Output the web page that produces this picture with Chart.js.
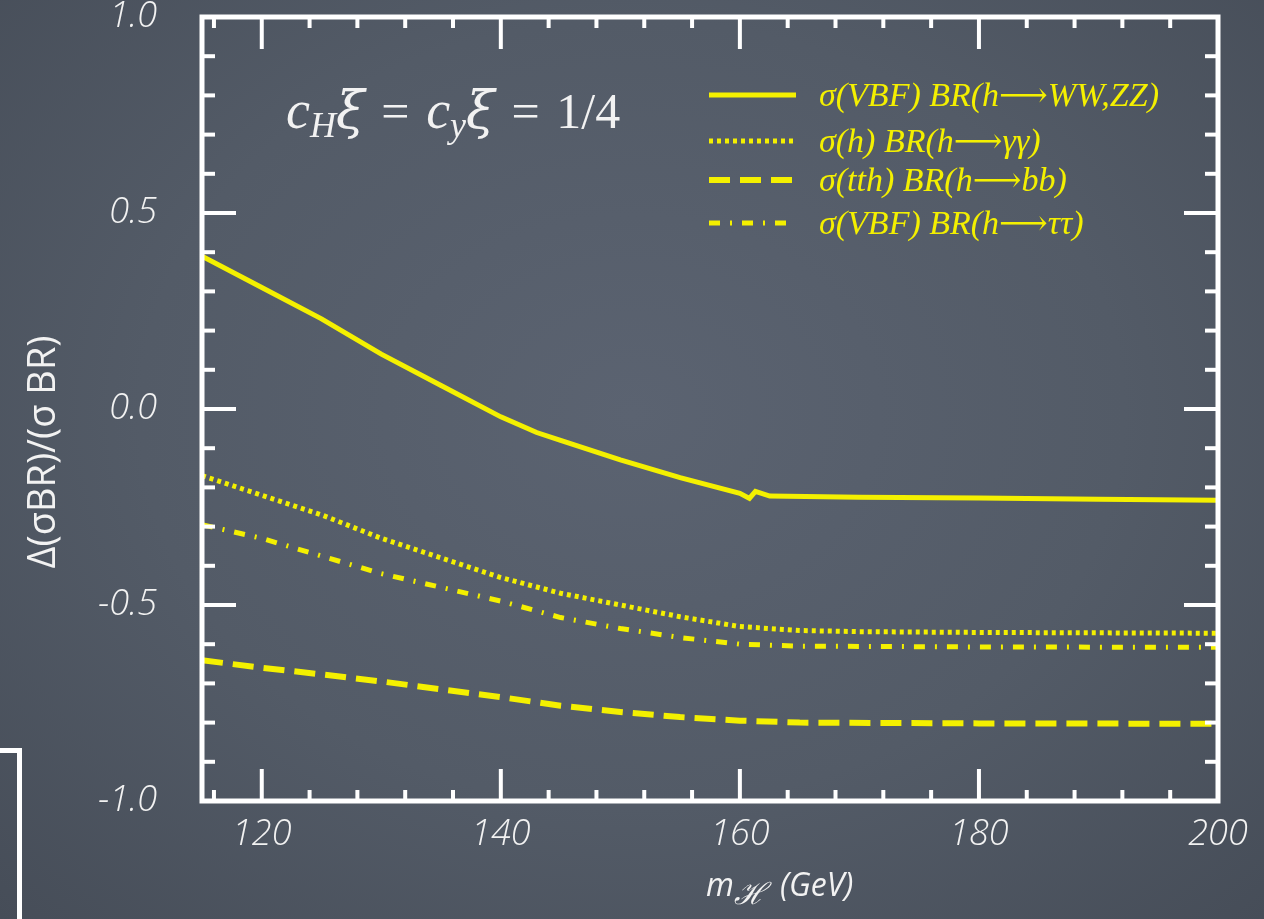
<!DOCTYPE html>
<html>
<head>
<meta charset="utf-8">
<script src="https://cdn.jsdelivr.net/npm/chart.js@4.4.1/dist/chart.umd.min.js"></script>
<style>
  html, body { margin: 0; padding: 0; }
  body {
    width: 1264px; height: 919px; overflow: hidden; position: relative;
    background: radial-gradient(ellipse at 50% 45%, #5b6371 0%, #535b67 55%, #464d58 100%);
  }
  #wrap { position: absolute; left: 0; top: 0; width: 1264px; height: 919px; }
  .slide-box {
    position: absolute; left: -10px; top: 748px; width: 27px; height: 220px;
    border: 5px solid #fff; border-left: none;
  }
</style>
</head>
<body>
<div class="slide-box"></div>
<div id="wrap"><canvas id="chart"></canvas></div>
<script>
// data: m_H (GeV) and Delta(sigma BR)/(sigma BR)
const massWW  = [115, 120, 125, 130, 135, 140, 143, 145, 150, 155, 160, 160.8, 161.3, 162.5, 170, 180, 190, 200];
const ratioWW = [0.39, 0.31, 0.23, 0.14, 0.06, -0.02, -0.06, -0.08, -0.13, -0.175, -0.215, -0.228, -0.21, -0.222, -0.225, -0.227, -0.23, -0.233];

const massGG  = [115, 120, 125, 130, 135, 140, 145, 150, 155, 160, 165, 170, 180, 200];
const ratioGG = [-0.17, -0.22, -0.27, -0.33, -0.38, -0.43, -0.47, -0.50, -0.53, -0.555, -0.565, -0.568, -0.57, -0.572];

const massBB  = [115, 120, 125, 130, 135, 140, 145, 150, 155, 160, 165, 180, 200];
const ratioBB = [-0.641, -0.66, -0.677, -0.695, -0.715, -0.735, -0.757, -0.773, -0.786, -0.795, -0.8, -0.802, -0.803];

const massTT  = [115, 120, 125, 130, 135, 140, 145, 150, 155, 160, 165, 180, 200];
const ratioTT = [-0.295, -0.33, -0.375, -0.42, -0.455, -0.49, -0.532, -0.56, -0.583, -0.6, -0.605, -0.607, -0.608];

const seriesLabels = ['σ(VBF) BR(h\u27F6WW,ZZ)', 'σ(h) BR(h\u27F6γγ)', 'σ(tth) BR(h\u27F6bb)', 'σ(VBF) BR(h\u27F6ττ)'];
const xTickLabels = [120, 140, 160, 180, 200];

const YELLOW = '#f4f000';
const pts = (xs, ys) => xs.map((m, i) => ({ x: m, y: ys[i] }));

const dataset = (label, xs, ys, dash, width) => ({
  label: label,
  data: pts(xs, ys),
  borderColor: YELLOW,
  borderWidth: width,
  borderDash: dash,
  pointRadius: 0,
  tension: 0,
  fill: false
});

const chalkFrame = {
  id: 'chalkFrame',
  afterDatasetsDraw(chart) {
    const { ctx, chartArea: a, scales: { x, y } } = chart;
    const seg = (x1, y1, x2, y2) => { ctx.beginPath(); ctx.moveTo(x1, y1); ctx.lineTo(x2, y2); ctx.stroke(); };
    ctx.save();
    ctx.strokeStyle = '#ffffff';
    ctx.lineCap = 'butt';

    // ticks, inward on all four sides
    ctx.lineWidth = 4;
    for (let m = 116; m < 200; m += 4) {
      const px = x.getPixelForValue(m);
      const len = m % 20 === 0 ? 32 : 11;
      seg(px, a.bottom, px, a.bottom - len);
      seg(px, a.top, px, a.top + len);
    }
    for (let k = -9; k <= 9; k++) {
      const py = y.getPixelForValue(k / 10);
      const len = k % 5 === 0 ? 34 : 13;
      seg(a.left, py, a.left + len, py);
      seg(a.right, py, a.right - len, py);
    }
    ctx.lineWidth = 5;
    ctx.strokeRect(a.left, a.top, a.right - a.left, a.bottom - a.top);

    // legend
    const rows = [95, 141, 180, 223];
    chart.data.datasets.forEach((ds, i) => {
      ctx.strokeStyle = YELLOW;
      ctx.lineWidth = ds.borderWidth;
      ctx.setLineDash(ds.borderDash);
      seg(709, rows[i], 796, rows[i]);
      ctx.setLineDash([]);
      ctx.fillStyle = YELLOW;
      ctx.font = 'italic 34px "Liberation Serif", "DejaVu Serif", serif';
      ctx.textBaseline = 'middle';
      ctx.textAlign = 'left';
      ctx.fillText(ds.label, 819, rows[i] + 2);
    });

    // parameter note: c_H xi = c_y xi = 1/4
    const parts = [
      ['c', 'italic 54px "Liberation Serif", serif', 0],
      ['H', 'italic 36px "Liberation Serif", serif', 9],
      ['ξ', 'italic 52px "DejaVu Serif", serif', 0],
      ['\u2004=\u2004', '50px "Liberation Serif", serif', 0],
      ['c', 'italic 54px "Liberation Serif", serif', 0],
      ['y', 'italic 36px "Liberation Serif", serif', 9],
      ['ξ', 'italic 52px "DejaVu Serif", serif', 0],
      ['\u2004=\u20041/4', '50px "Liberation Serif", serif', 0]
    ];
    ctx.fillStyle = '#f2f2f2';
    ctx.textBaseline = 'alphabetic';
    let cx = 286;
    parts.forEach(([t, f, dy]) => {
      ctx.font = f;
      ctx.fillText(t, cx, 128 + dy);
      cx += ctx.measureText(t).width;
    });

    // axis titles
    ctx.fillStyle = '#f2f2f2';
    ctx.font = 'italic 32px "Open Sans", sans-serif';
    let tx = 706;
    ctx.fillText('m', tx, 896);
    tx += ctx.measureText('m').width;
    ctx.font = 'italic 30px "DejaVu Serif", serif';
    ctx.fillText('\u210B', tx, 904);
    tx += ctx.measureText('\u210B').width + 14;
    ctx.font = 'italic 32px "Open Sans", sans-serif';
    ctx.fillText('(GeV)', tx, 896);

    ctx.translate(55, 452);
    ctx.rotate(-Math.PI / 2);
    ctx.textAlign = 'center';
    ctx.font = '38px "Open Sans", sans-serif';
    ctx.fillText('Δ(σBR)/(σ BR)', 0, 0);
    ctx.restore();
  }
};

const tickFont = { family: '"Open Sans", sans-serif', size: 36, style: 'italic', weight: '300' };

new Chart(document.getElementById('chart'), {
  type: 'line',
  data: {
    datasets: [
      dataset(seriesLabels[0], massWW, ratioWW, [], 5),
      dataset(seriesLabels[1], massGG, ratioGG, [4, 4], 5),
      dataset(seriesLabels[2], massBB, ratioBB, [21, 10], 6),
      dataset(seriesLabels[3], massTT, ratioTT, [11, 10, 2, 10], 5)
    ]
  },
  options: {
    responsive: true,
    maintainAspectRatio: false,
    animation: false,
    layout: { padding: { left: 0, right: 46, top: 17, bottom: 0 } },
    plugins: { legend: { display: false }, tooltip: { enabled: false } },
    scales: {
      x: {
        type: 'linear', min: 115, max: 200,
        grid: { display: false, drawTicks: false },
        border: { display: false },
        afterBuildTicks: s => { s.ticks = xTickLabels.map(v => ({ value: v })); },
        afterFit: s => { s.height = 118; s.paddingLeft = 0; s.paddingRight = 0; },
        ticks: { color: '#f2f2f2', font: tickFont, padding: 12, maxRotation: 0, autoSkip: false }
      },
      y: {
        min: -1, max: 1,
        grid: { display: false, drawTicks: false },
        border: { display: false },
        afterFit: s => { s.width = 202; s.paddingTop = 0; s.paddingBottom = 0; },
        ticks: { stepSize: 0.5, color: '#f2f2f2', font: tickFont, padding: 45, callback: v => v.toFixed(1) }
      }
    }
  },
  plugins: [chalkFrame]
});
</script>
</body>
</html>
